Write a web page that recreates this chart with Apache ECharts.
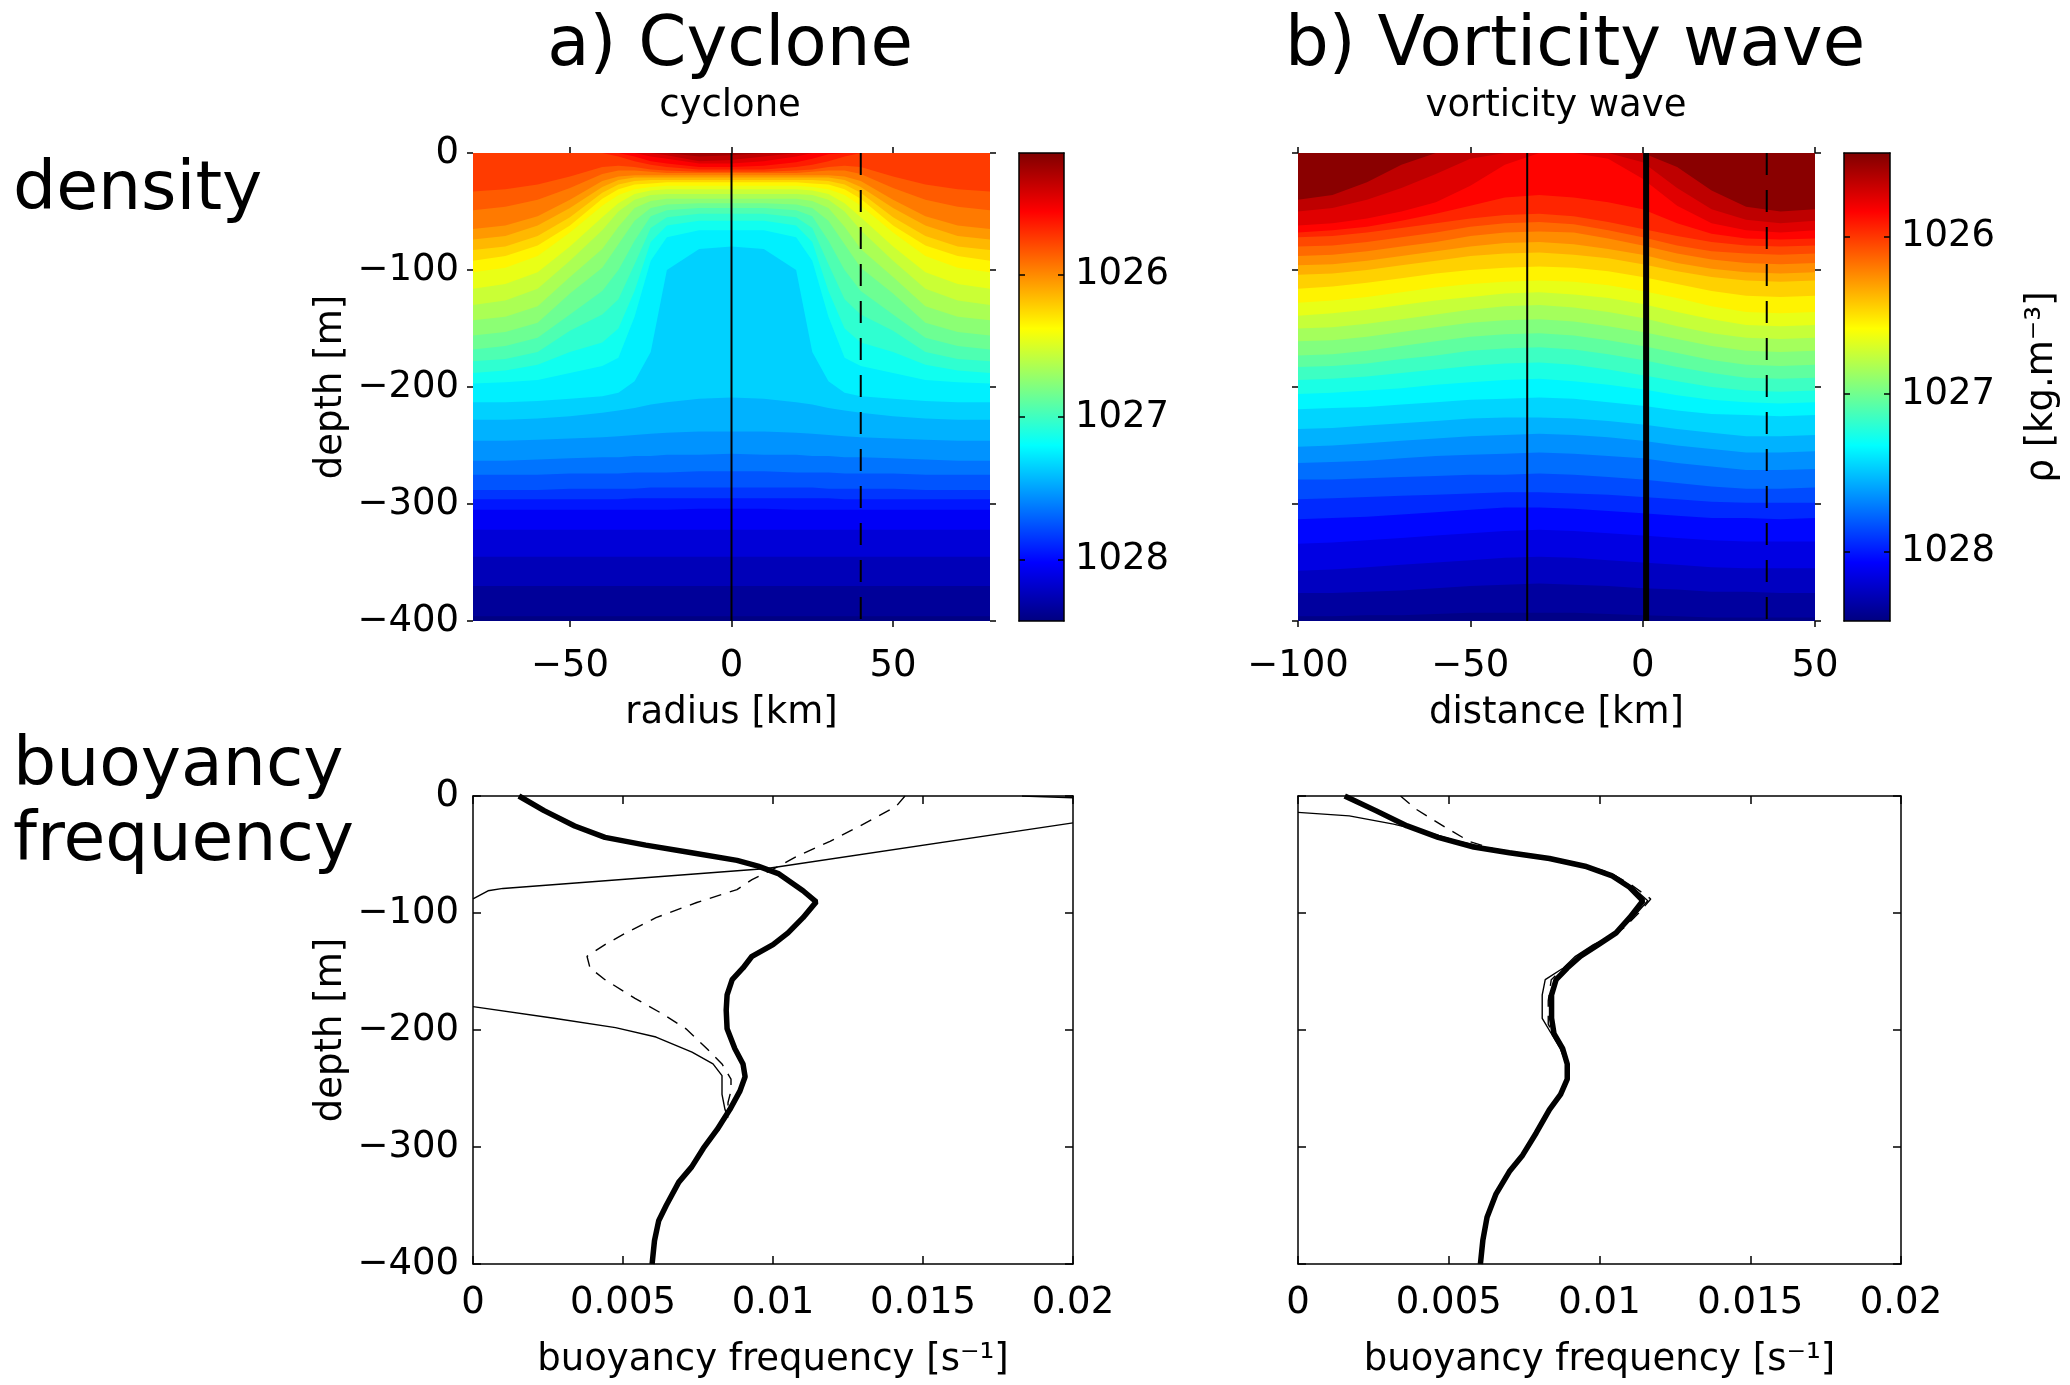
<!DOCTYPE html>
<html>
<head>
<meta charset="utf-8">
<script src="https://cdn.jsdelivr.net/npm/echarts@6/dist/echarts.min.js"></script>
<style>
  html, body { margin: 0; padding: 0; background: #ffffff; }
  #chart { width: 2070px; height: 1385px; }
</style>
</head>
<body>
<div id="chart"></div>
<script>
// ---------------------------------------------------------------
// a) Cyclone: density section, given as isopycnal depths (m) per radius column
// ---------------------------------------------------------------
const cycloneX = [-80, -70, -60, -50, -40, -35, -30, -25, -20, -10, 0, 10, 20, 25, 30, 35, 40, 50, 60, 70, 80];
const cycloneIsoRho = [1025.3, 1025.4, 1025.5, 1025.6, 1025.7, 1025.8, 1025.9, 1026.0, 1026.1, 1026.2, 1026.3,
                       1026.4, 1026.5, 1026.6, 1026.7, 1026.8, 1026.9, 1027.0, 1027.1, 1027.2, 1027.3, 1027.4,
                       1027.5, 1027.6, 1027.7, 1027.8, 1027.9, 1028.0, 1028.1, 1028.2, 1028.3, 1028.4];
const cycloneIsoDepth = [
  [0, 0, 0, 0, 0, 0, 0, 0, 0, 3, 2, 0, 0, 0, 0, 0, 0, 0, 0, 0, 0],
  [0, 0, 0, 0, 0, 0, 0, 0, 2, 7, 6, 3, 0, 0, 0, 0, 0, 0, 0, 0, 0],
  [0, 0, 0, 0, 0, 0, 0, 3, 5, 9, 9, 7, 3, 0, 0, 0, 0, 0, 0, 0, 0],
  [0, 0, 0, 0, 0, 0, 3, 7, 9, 12, 12, 11, 8, 5, 1, 0, 0, 0, 0, 0, 0],
  [0, 0, 0, 0, 0, 3, 7, 10, 12, 14, 14, 14, 12, 10, 7, 3, 0, 0, 0, 0, 0],
  [33, 31, 27, 20, 12, 11, 12, 14, 15, 16, 16, 16, 15, 14, 12, 11, 12, 20, 27, 31, 33],
  [49, 46, 40, 30, 18, 15, 15, 16, 17, 17, 17, 17, 17, 16, 15, 15, 18, 30, 40, 46, 49],
  [65, 62, 54, 40, 24, 20, 19, 19, 19, 19, 19, 19, 19, 19, 19, 20, 24, 40, 54, 62, 65],
  [74, 71, 62, 47, 29, 23, 21, 21, 21, 21, 21, 21, 21, 21, 21, 23, 29, 47, 62, 71, 74],
  [83, 80, 71, 55, 34, 27, 24, 23, 23, 23, 23, 23, 23, 23, 24, 27, 34, 55, 71, 80, 83],
  [92, 88, 79, 62, 39, 31, 27, 26, 25, 25, 25, 25, 25, 26, 27, 31, 39, 62, 79, 88, 92],
  [102, 98, 88, 68, 45, 36, 31, 29, 28, 28, 28, 28, 28, 29, 31, 36, 45, 68, 88, 98, 102],
  [116, 112, 102, 80, 55, 43, 35, 32, 31, 31, 31, 31, 31, 32, 35, 43, 55, 80, 102, 112, 116],
  [130, 126, 116, 92, 66, 50, 40, 36, 35, 35, 35, 35, 35, 36, 40, 50, 66, 92, 116, 126, 130],
  [143, 140, 131, 106, 82, 63, 47, 41, 39, 39, 39, 39, 39, 41, 47, 63, 82, 106, 131, 140, 143],
  [156, 153, 145, 120, 98, 78, 58, 47, 44, 43, 43, 43, 44, 47, 58, 78, 98, 120, 145, 153, 156],
  [168, 165, 158, 138, 118, 100, 75, 54, 49, 47, 47, 47, 49, 54, 75, 100, 118, 138, 158, 165, 168],
  [178, 176, 170, 152, 138, 125, 95, 64, 55, 52, 52, 52, 55, 64, 95, 125, 138, 152, 170, 176, 178],
  [188, 186, 181, 170, 162, 150, 118, 76, 62, 58, 58, 58, 62, 76, 118, 150, 162, 170, 181, 186, 188],
  [197, 196, 194, 188, 182, 175, 140, 92, 72, 66, 66, 66, 72, 92, 140, 175, 182, 188, 194, 196, 197],
  [213, 213, 212, 210, 208, 205, 195, 170, 100, 82, 80, 82, 100, 170, 195, 205, 208, 210, 212, 213, 213],
  [228, 228, 227, 225, 222, 220, 218, 215, 213, 210, 209, 210, 213, 215, 218, 220, 222, 225, 227, 228, 228],
  [246, 246, 245, 244, 243, 242, 241, 240, 239, 238, 238, 238, 239, 240, 241, 242, 243, 244, 245, 246, 246],
  [263, 263, 262, 261, 260, 260, 259, 259, 258, 258, 257, 258, 258, 259, 259, 260, 260, 261, 262, 263, 263],
  [275, 275, 275, 274, 274, 274, 273, 273, 273, 272, 272, 272, 273, 273, 273, 274, 274, 274, 275, 275, 275],
  [288, 288, 288, 287, 287, 287, 287, 286, 286, 286, 286, 286, 286, 286, 287, 287, 287, 287, 288, 288, 288],
  [296, 296, 296, 296, 296, 296, 295, 295, 295, 295, 295, 295, 295, 295, 295, 296, 296, 296, 296, 296, 296],
  [305, 305, 305, 305, 305, 305, 305, 305, 305, 304, 304, 304, 305, 305, 305, 305, 305, 305, 305, 305, 305],
  [322, 322, 322, 322, 322, 322, 322, 322, 322, 322, 322, 322, 322, 322, 322, 322, 322, 322, 322, 322, 322],
  [345, 345, 345, 345, 345, 345, 345, 345, 345, 345, 345, 345, 345, 345, 345, 345, 345, 345, 345, 345, 345],
  [370, 370, 370, 370, 370, 370, 370, 370, 370, 370, 370, 370, 370, 370, 370, 370, 370, 370, 370, 370, 370],
  [396, 396, 396, 396, 396, 396, 396, 396, 396, 396, 396, 396, 396, 396, 396, 396, 396, 396, 396, 396, 396]
];
const cycloneTopRho = 1025.25;      // lightest surface water at the core
const cycloneBottomRho = 1028.42;   // below the deepest isopycnal
const cycloneRhoRange = [1025.15, 1028.43];
const cycloneXTicks = [-50, 0, 50];
const cycloneSectionSolid = [0];
const cycloneSectionDashed = [40];

// ---------------------------------------------------------------
// b) Vorticity wave: density section, isopycnal depths (m) per distance column
// ---------------------------------------------------------------
const waveX = [-100, -90, -80, -70, -60, -50, -40, -30, -20, -10, 0, 10, 20, 30, 40, 50];
const waveIsoRho = [1025.6, 1025.7, 1025.8, 1025.9, 1026.0, 1026.1, 1026.2, 1026.3, 1026.4, 1026.5, 1026.6,
                    1026.7, 1026.8, 1026.9, 1027.0, 1027.1, 1027.2, 1027.3, 1027.4, 1027.5, 1027.6, 1027.7,
                    1027.8, 1027.9, 1028.0, 1028.1, 1028.2, 1028.3, 1028.4];
const waveIsoDepth = [
  [40, 36, 25, 10, 0, 0, 0, 0, 0, 0, 0, 12, 32, 46, 50, 48],
  [50, 47, 40, 30, 18, 5, 0, 0, 0, 0, 8, 30, 48, 57, 60, 58],
  [62, 60, 56, 50, 42, 28, 10, 0, 0, 5, 22, 45, 60, 66, 68, 66],
  [68, 66, 63, 58, 52, 45, 38, 36, 38, 42, 48, 60, 69, 73, 74, 73],
  [72, 71, 68, 64, 60, 56, 53, 52, 54, 59, 65, 71, 76, 79, 80, 79],
  [80, 79, 76, 72, 68, 63, 60, 59, 61, 66, 72, 79, 84, 86, 87, 86],
  [88, 87, 84, 80, 76, 71, 68, 67, 68, 73, 79, 86, 91, 94, 95, 94],
  [96, 95, 92, 88, 84, 80, 77, 76, 78, 82, 87, 94, 99, 102, 103, 102],
  [104, 103, 100, 96, 92, 88, 86, 85, 87, 90, 95, 101, 106, 109, 110, 109],
  [116, 114, 111, 107, 103, 100, 98, 97, 98, 101, 106, 112, 118, 122, 123, 122],
  [128, 126, 123, 119, 115, 112, 110, 109, 110, 113, 118, 124, 131, 136, 137, 136],
  [139, 137, 134, 130, 126, 123, 120, 119, 121, 124, 129, 136, 142, 147, 148, 147],
  [150, 149, 146, 142, 138, 134, 131, 130, 132, 136, 141, 148, 154, 158, 159, 158],
  [161, 160, 157, 153, 149, 145, 143, 142, 144, 148, 153, 159, 165, 169, 170, 169],
  [173, 172, 169, 165, 161, 157, 155, 154, 156, 160, 165, 171, 177, 181, 182, 181],
  [183, 182, 180, 176, 173, 169, 167, 166, 168, 172, 177, 183, 188, 192, 193, 192],
  [194, 193, 191, 188, 185, 182, 180, 179, 181, 185, 190, 195, 200, 203, 204, 203],
  [206, 205, 203, 201, 198, 196, 194, 193, 195, 198, 202, 207, 211, 213, 214, 213],
  [219, 218, 217, 215, 213, 211, 210, 209, 210, 213, 216, 220, 223, 224, 225, 224],
  [236, 235, 233, 231, 229, 227, 226, 226, 227, 229, 232, 236, 239, 242, 242, 241],
  [251, 250, 248, 246, 244, 242, 241, 240, 241, 243, 246, 250, 253, 256, 256, 255],
  [265, 264, 263, 261, 259, 258, 257, 256, 257, 259, 261, 265, 268, 271, 271, 270],
  [279, 279, 278, 277, 276, 275, 275, 274, 275, 277, 279, 282, 285, 287, 287, 286],
  [296, 295, 294, 293, 292, 291, 290, 290, 291, 292, 294, 296, 298, 299, 299, 299],
  [313, 312, 311, 309, 307, 305, 303, 303, 304, 306, 308, 310, 312, 312, 313, 312],
  [334, 333, 331, 329, 327, 325, 323, 322, 323, 325, 327, 329, 331, 332, 332, 332],
  [357, 356, 354, 352, 350, 348, 346, 345, 346, 348, 350, 352, 354, 355, 355, 355],
  [376, 376, 375, 374, 372, 370, 369, 368, 369, 370, 372, 373, 375, 375, 376, 376],
  [396, 396, 395, 395, 394, 393, 393, 393, 393, 394, 395, 396, 397, 397, 397, 397]
];
const waveTopRho = 1025.5;
const waveBottomRho = 1028.42;
const waveRhoRange = [1025.47, 1028.44];
const waveXTicks = [-100, -50, 0, 50];
const waveSectionSolid = [-33.5];
const waveSectionThick = [1];
const waveSectionDashed = [36];

const rhoTicks = [1026, 1027, 1028];
const depthRange = [-400, 0];

// ---------------------------------------------------------------
// Buoyancy frequency profiles: N [1/s] against depth [m]
// ---------------------------------------------------------------
const cycloneNDepth = [0, 12.5, 25.6, 35.4, 42, 48.5, 55, 60, 66.6, 81, 90.5, 104, 117, 127, 137, 147, 157,
                       170, 183, 199, 216, 229, 240, 252, 268, 285, 301, 317, 330, 350, 363, 380, 400];
const cycloneN = [0.00153, 0.00237, 0.00339, 0.0044, 0.00576, 0.00729, 0.0088, 0.0095, 0.0102, 0.011, 0.01144,
                  0.011, 0.0105, 0.01, 0.0093, 0.009, 0.00864, 0.00847, 0.00844, 0.00847, 0.00873, 0.009, 0.00907,
                  0.0089, 0.00856, 0.00814, 0.00768, 0.00729, 0.00686, 0.00644, 0.00619, 0.00605, 0.00597];
// thin solid profile, in three visible pieces [N, depth]
const cycloneCoreTop = [[0.0183, 0], [0.0200, 1.5]];
const cycloneCoreMid = [[0.0200, 23], [0.0098, 62], [0.001, 79], [0.0005, 81], [0, 88]];
const cycloneCoreDeep = [[0, 180], [0.0027, 190], [0.00475, 198], [0.0061, 206], [0.0073, 219], [0.008, 229],
                         [0.0083, 239], [0.0083, 255], [0.0084, 268], [0.0085, 275]];
// thin dashed profile [N, depth]
const cycloneEdge = [[0.0144, 0], [0.0141, 9], [0.0129, 25.6], [0.0119, 38.7], [0.01076, 52], [0.0102, 60],
                     [0.0093, 71.5], [0.0088, 80], [0.00746, 91], [0.0061, 104], [0.0051, 117], [0.0044, 127],
                     [0.0038, 137], [0.0039, 147], [0.0044, 157], [0.0054, 173], [0.0063, 186], [0.0071, 199],
                     [0.0078, 216], [0.0083, 229], [0.0086, 242], [0.0086, 252], [0.0085, 262], [0.0085, 270]];

const waveNDepth = [0, 12.5, 25.6, 35.4, 43.6, 48.5, 53.4, 60, 68, 78, 89.5, 104, 117, 127, 137, 147, 157, 170,
                    190, 203, 216, 229, 242, 255, 268, 288, 307, 321, 340, 360, 380, 400];
const waveN = [0.00155, 0.00258, 0.00362, 0.00465, 0.00583, 0.00701, 0.00834, 0.00952, 0.0104, 0.011, 0.01144,
               0.011, 0.01055, 0.00996, 0.00937, 0.00893, 0.00856, 0.00841, 0.00841, 0.00849, 0.00878, 0.00893,
               0.00893, 0.00871, 0.00834, 0.0079, 0.00745, 0.00701, 0.00657, 0.00627, 0.00613, 0.00605];
const waveTrough = [[0, 14], [0.0017, 17], [0.00317, 24], [0.0043, 31], [0.0052, 38], [0.0062, 44], [0.0072, 48],
                    [0.0084, 53], [0.0096, 60], [0.0105, 68], [0.0111, 78], [0.0116, 89.5], [0.0111, 104],
                    [0.0106, 117], [0.0098, 127], [0.0092, 137], [0.0088, 147], [0.0082, 157], [0.0081, 170],
                    [0.0081, 190], [0.0084, 203], [0.0087, 216], [0.0089, 229], [0.0089, 242], [0.0087, 255]];
const waveCrest = [[0.0034, 0], [0.0039, 11], [0.0049, 27], [0.0057, 39], [0.0066, 46], [0.0078, 51], [0.0092, 57],
                   [0.0103, 65], [0.011, 75], [0.0117, 88], [0.0113, 100], [0.0108, 113], [0.0101, 124],
                   [0.0094, 135], [0.0089, 145], [0.0084, 157], [0.0083, 175], [0.0083, 195], [0.0086, 210],
                   [0.0089, 225]];
const nRange = [0, 0.02];

// ---------------------------------------------------------------
// Styling helpers
// ---------------------------------------------------------------
const BLACK = '#000000';
const FONT = 'DejaVu Sans';
const AX_FONT = 37;
const axisText = { color: BLACK, fontFamily: FONT, fontSize: AX_FONT };
// jet colormap, light (low density) to dense (high density)
const jetScale = ['#800000', '#ff0000', '#ff8000', '#ffff00', '#80ff80', '#00ffff', '#0080ff', '#0000ff', '#000080'];
const withMinus = v => String(v).replace('-', '\u2212');

const grids = [
  { left: 473, top: 153, width: 517, height: 468 },   // 0 cyclone section
  { left: 1019, top: 153, width: 45, height: 468 },   // 1 cyclone colorbar
  { left: 1298, top: 153, width: 517, height: 468 },  // 2 wave section
  { left: 1844, top: 153, width: 46, height: 468 },   // 3 wave colorbar
  { left: 473, top: 796, width: 600, height: 468 },   // 4 cyclone N
  { left: 1298, top: 796, width: 603, height: 468 }   // 5 wave N
];

const xAxes = [];
const yAxes = [];
function makeAxis(o) {
  const a = {
    gridIndex: o.grid, type: 'value', min: o.min, max: o.max, position: o.position,
    inverse: !!o.inverse, z: 5, silent: true,
    axisLine: { show: !!o.line, onZero: false, lineStyle: { color: BLACK, width: 1.5 } },
    axisTick: { show: (o.tickLen || 0) > 0, inside: !!o.tickInside, length: o.tickLen || 0,
                lineStyle: { color: BLACK, width: 1.5 } },
    axisLabel: Object.assign({ show: !!o.labels, margin: o.labelMargin || 12, formatter: withMinus }, axisText),
    splitLine: { show: false },
    splitArea: { show: false }
  };
  if (o.interval) a.interval = o.interval;
  if (o.ticks) { a.axisTick.customValues = o.ticks; a.axisLabel.customValues = o.ticks; }
  if (o.name) {
    a.name = o.name; a.nameLocation = 'middle'; a.nameGap = o.nameGap;
    if (o.nameRotate !== undefined) a.nameRotate = o.nameRotate;
    a.nameTextStyle = Object.assign({}, axisText);
  }
  return a;
}
function addX(o) { xAxes.push(makeAxis(o)); return xAxes.length - 1; }
function addY(o) { yAxes.push(makeAxis(o)); return yAxes.length - 1; }

// section panels: ticks pointing outward, no frame
function sectionAxes(grid, xr, xticks, xname, withYLabels) {
  const xb = addX({ grid, min: xr[0], max: xr[1], position: 'bottom', tickLen: 6, ticks: xticks,
                    labels: true, labelMargin: 27, name: xname, nameGap: 74 });
  addX({ grid, min: xr[0], max: xr[1], position: 'top', tickLen: 6, ticks: xticks });
  const yl = addY({ grid, min: depthRange[0], max: depthRange[1], interval: 100, position: 'left', tickLen: 6,
                    labels: withYLabels, labelMargin: 14,
                    name: withYLabels ? 'depth [m]' : null, nameGap: 123, nameRotate: 90 });
  addY({ grid, min: depthRange[0], max: depthRange[1], interval: 100, position: 'right', tickLen: 6 });
  return [xb, yl];
}
// colorbars: framed, short ticks inside on both edges, labels on the right
function colorbarAxes(grid, range, name) {
  const xb = addX({ grid, min: 0, max: 1, position: 'bottom', line: true });
  addX({ grid, min: 0, max: 1, position: 'top', line: true });
  const yl = addY({ grid, min: range[0], max: range[1], inverse: true, position: 'left', line: true,
                    tickLen: 6, tickInside: true, ticks: rhoTicks });
  addY({ grid, min: range[0], max: range[1], inverse: true, position: 'right', line: true,
         tickLen: 6, tickInside: true, ticks: rhoTicks, labels: true, labelMargin: 11,
         name: name, nameGap: 134, nameRotate: 90 });
  return [xb, yl];
}
// profile panels: full box, ticks inside on every edge
function profileAxes(grid, withYLabels) {
  const xb = addX({ grid, min: nRange[0], max: nRange[1], interval: 0.005, position: 'bottom', line: true,
                    tickLen: 8, tickInside: true, labels: true, labelMargin: 21,
                    name: 'buoyancy frequency [s\u207B\u00B9]', nameGap: 78 });
  addX({ grid, min: nRange[0], max: nRange[1], interval: 0.005, position: 'top', line: true,
         tickLen: 8, tickInside: true });
  const yl = addY({ grid, min: depthRange[0], max: depthRange[1], interval: 100, position: 'left', line: true,
                    tickLen: 8, tickInside: true, labels: withYLabels, labelMargin: 14,
                    name: withYLabels ? 'depth [m]' : null, nameGap: 123, nameRotate: 90 });
  addY({ grid, min: depthRange[0], max: depthRange[1], interval: 100, position: 'right', line: true,
         tickLen: 8, tickInside: true });
  return [xb, yl];
}

const axCycSec = sectionAxes(0, [-80, 80], cycloneXTicks, 'radius [km]', true);
const axCycBar = colorbarAxes(1, cycloneRhoRange, null);
const axWavSec = sectionAxes(2, [-100, 50], waveXTicks, 'distance [km]', false);
const axWavBar = colorbarAxes(3, waveRhoRange, '\u03C1 [kg.m\u207B\u00B3]');
const axCycN = profileAxes(4, true);
const axWavN = profileAxes(5, false);

// ---------------------------------------------------------------
// Filled isopycnal bands: each band fills from its upper isopycnal to the bottom,
// drawn shallow to deep so deeper bands cover the lower part.
// ---------------------------------------------------------------
function bandData(isoRho, topRho, bottomRho) {
  const out = [[0, topRho]];
  for (let k = 0; k < isoRho.length; k++) {
    const below = k + 1 < isoRho.length ? (isoRho[k] + isoRho[k + 1]) / 2 : bottomRho;
    out.push([k + 1, below]);
  }
  return out;
}
function sectionRenderer(xs, isoDepth) {
  return function (params, api) {
    const k = api.value(0);
    const row = k === 0 ? null : isoDepth[k - 1];
    const pts = xs.map((x, i) => api.coord([x, row ? -row[i] : 0]));
    pts.push(api.coord([xs[xs.length - 1], depthRange[0]]));
    pts.push(api.coord([xs[0], depthRange[0]]));
    return { type: 'polygon', shape: { points: pts }, style: { fill: api.visual('color') } };
  };
}
function colorbarRenderer(range) {
  return function (params, api) {
    const a = api.coord([0, range[0]]);
    const b = api.coord([1, range[1]]);
    const stops = jetScale.map((c, i) => ({ offset: i / (jetScale.length - 1), color: c }));
    return {
      type: 'rect',
      shape: { x: a[0], y: a[1], width: b[0] - a[0], height: b[1] - a[1] },
      style: { fill: new echarts.graphic.LinearGradient(0, 0, 0, 1, stops) }
    };
  };
}

function verticalLine(ax, x, width, type) {
  return {
    type: 'line', xAxisIndex: ax[0], yAxisIndex: ax[1], z: 3, silent: true,
    showSymbol: false, symbol: 'none',
    data: [[x, depthRange[1]], [x, depthRange[0]]],
    lineStyle: { color: BLACK, width: width, type: type }
  };
}
function profileLine(ax, pairs, width, type) {
  return {
    type: 'line', xAxisIndex: ax[0], yAxisIndex: ax[1], z: 3, silent: true, clip: true,
    showSymbol: false, symbol: 'none',
    data: pairs.map(p => [p[0], -p[1]]),
    lineStyle: { color: BLACK, width: width, type: type }
  };
}
const zipProfile = (n, d) => n.map((v, i) => [v, d[i]]);

const series = [
  { type: 'custom', xAxisIndex: axCycSec[0], yAxisIndex: axCycSec[1], z: 1, silent: true,
    renderItem: sectionRenderer(cycloneX, cycloneIsoDepth),
    data: bandData(cycloneIsoRho, cycloneTopRho, cycloneBottomRho) },
  { type: 'custom', xAxisIndex: axWavSec[0], yAxisIndex: axWavSec[1], z: 1, silent: true,
    renderItem: sectionRenderer(waveX, waveIsoDepth),
    data: bandData(waveIsoRho, waveTopRho, waveBottomRho) },
  { type: 'custom', xAxisIndex: axCycBar[0], yAxisIndex: axCycBar[1], z: 1, silent: true,
    renderItem: colorbarRenderer(cycloneRhoRange), data: [[0, cycloneRhoRange[0]]] },
  { type: 'custom', xAxisIndex: axWavBar[0], yAxisIndex: axWavBar[1], z: 1, silent: true,
    renderItem: colorbarRenderer(waveRhoRange), data: [[0, waveRhoRange[0]]] },

  verticalLine(axCycSec, cycloneSectionSolid[0], 2, 'solid'),
  verticalLine(axCycSec, cycloneSectionDashed[0], 2, [22, 15]),
  verticalLine(axWavSec, waveSectionSolid[0], 2, 'solid'),
  verticalLine(axWavSec, waveSectionThick[0], 6, 'solid'),
  verticalLine(axWavSec, waveSectionDashed[0], 2, [22, 15]),

  profileLine(axCycN, cycloneCoreTop, 1.4, 'solid'),
  profileLine(axCycN, cycloneCoreMid, 1.4, 'solid'),
  profileLine(axCycN, cycloneCoreDeep, 1.4, 'solid'),
  profileLine(axCycN, cycloneEdge, 1.4, [12, 9]),
  profileLine(axCycN, zipProfile(cycloneN, cycloneNDepth), 5.5, 'solid'),

  profileLine(axWavN, waveTrough, 1.4, 'solid'),
  profileLine(axWavN, waveCrest, 1.4, [12, 9]),
  profileLine(axWavN, zipProfile(waveN, waveNDepth), 5.5, 'solid')
];

function label(text, x, y, size, align) {
  return {
    type: 'text', x: x, y: y, silent: true,
    style: { text: text, fill: BLACK, font: size + 'px "' + FONT + '"',
             textAlign: align || 'center', textVerticalAlign: 'middle' }
  };
}

const option = {
  animation: false,
  backgroundColor: '#ffffff',
  grid: grids.map(g => Object.assign({ outerBoundsMode: 'none', containLabel: false }, g)),
  xAxis: xAxes,
  yAxis: yAxes,
  visualMap: [
    { type: 'continuous', show: false, seriesIndex: 0, dimension: 1,
      min: cycloneRhoRange[0], max: cycloneRhoRange[1], inRange: { color: jetScale } },
    { type: 'continuous', show: false, seriesIndex: 1, dimension: 1,
      min: waveRhoRange[0], max: waveRhoRange[1], inRange: { color: jetScale } }
  ],
  series: series,
  graphic: [
    label('a) Cyclone', 730, 47, 69),
    label('b) Vorticity wave', 1575, 47, 69),
    label('cyclone', 730, 106, AX_FONT),
    label('vorticity wave', 1556, 106, AX_FONT),
    label('density', 13, 191, 68, 'left'),
    label('buoyancy', 13, 767, 68, 'left'),
    label('frequency', 13, 842, 68, 'left')
  ]
};

const chart = echarts.init(document.getElementById('chart'), null, { renderer: 'canvas', width: 2070, height: 1385 });
chart.setOption(option);
</script>
</body>
</html>
